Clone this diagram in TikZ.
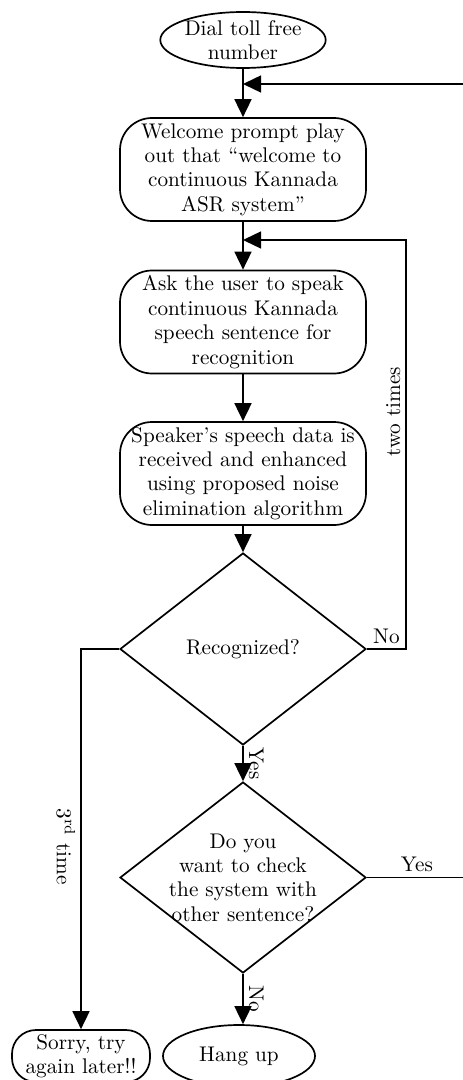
\documentclass[tikz,border=0pt]{standalone}
\usetikzlibrary{shapes.geometric,arrows.meta,calc}
\begin{document}
\begin{tikzpicture}[x=0.5pt,y=-0.5pt,
  every node/.style={font=\fontsize{10.6}{12.2}\selectfont, text=black},
  term/.style={ellipse, draw, line width=0.85pt, inner sep=0pt, align=center},
  proc/.style={rectangle, draw, line width=0.85pt, rounded corners=16pt, minimum width=123pt, minimum height=51.5pt, inner sep=0pt, align=center},
  dec/.style={diamond, draw, line width=0.85pt, minimum width=123pt, minimum height=96pt, inner sep=0pt},
  arr/.style={-{Triangle[length=9pt,width=8.5pt]}, line width=0.85pt},
  fb/.style={-{Triangle[length=9pt,width=8.5pt]}, line width=0.7pt},
  lab/.style={inner sep=2.5pt}]
\useasboundingbox (0,0) rectangle (462,1080);

\node[term, minimum width=75.5pt, minimum height=28pt] (dial) at (243,40) {Dial toll free\\number};
\node[proc] (welcome) at (243,169.5) {Welcome prompt play\\out that ``welcome to\\continuous Kannada\\ASR system''};
\node[proc] (ask) at (243,322) {Ask the user to speak\\continuous Kannada\\speech sentence for\\recognition};
\node[proc] (speaker) at (243,473.5) {Speaker's speech data is\\received and enhanced\\using proposed noise\\elimination algorithm};
\node[dec, label={center:Recognized?}] (d1) at (243,649) {};
\node[dec, minimum height=95.5pt, label={[align=center]center:Do you\\want to check\\the system with\\other sentence?}] (d2) at (243,877.5) {};
\node[term, minimum width=76pt, minimum height=31pt] (hang) at (239,1056) {Hang up};
\node[proc, minimum width=69pt, minimum height=26pt, rounded corners=12pt] (sorry) at (81,1056) {Sorry, try\\again later!!};

\coordinate (j1) at (243,84);
\coordinate (j2) at (243,240);
\coordinate (rx) at (406,0);
\coordinate (ex) at (467,0);

\draw[arr] (dial) -- (welcome);
\draw[arr] (welcome) -- (ask);
\draw[arr] (ask) -- (speaker);
\draw[arr] (speaker) -- (d1);
\draw[arr] (d1) -- node[midway, above, rotate=-90, lab]{Yes} (d2);
\draw[arr] (d2.south) -- node[midway, above, rotate=-90, lab]{No} (d2.south |- hang.north);
\draw[arr] (d1.west) -| node[pos=0.76, below, rotate=-90, lab]{3\textsuperscript{rd} time} (sorry.north);
\draw[fb] (d1.east) -- node[above, lab]{No} (d1.east -| rx) |- node[pos=0.29, above, rotate=90, lab]{two times} (j2);
\draw[fb] (d2.east) -- node[above, lab]{Yes} (d2.east -| ex) |- (j1);
\end{tikzpicture}
\end{document}
